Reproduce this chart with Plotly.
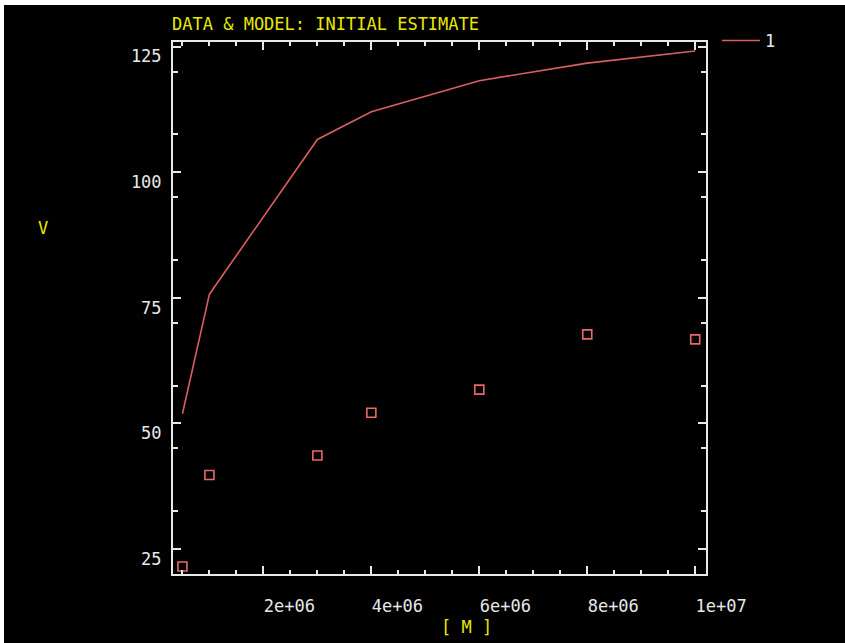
import plotly.graph_objects as go

# ---- data ----
mass = [0.5e6, 1e6, 3e6, 4e6, 6e6, 8e6, 10e6]
v_data = [21.5, 39.7, 43.6, 52.1, 56.7, 67.7, 66.7]
v_model = [51.9, 75.7, 106.5, 112.0, 118.2, 121.7, 124.1]
model_name = "1"
x_tickvals = [2e6, 4e6, 6e6, 8e6, 10e6]
x_ticktext = ["2e+06", "4e+06", "6e+06", "8e+06", "1e+07"]
y_tickvals = [25, 50, 75, 100, 125]
y_ticktext = ["25", "50", "75", "100", "125"]
title_text = "DATA & MODEL: INITIAL ESTIMATE"
x_label = "[ M ]"
y_label = "V"

W, H = 845, 643
L, T = 173, 42
R = W - 706
B = H - 574
PW, PH = W - L - R, H - T - B
FONT = "DejaVu Sans Mono"
FS = 17
YELLOW = "#e8e800"
WHITE = "#e8e8e8"
RED = "#d95f5f"


def px_to_paper(sx, sy):
    return (sx - L) / PW, 1 - (sy - T) / PH


fig = go.Figure()
fig.add_trace(go.Scatter(
    x=mass, y=v_model, mode="lines", name=model_name,
    line=dict(color=RED, width=1.6),
))
fig.add_trace(go.Scatter(
    x=mass, y=v_data, mode="markers", showlegend=False,
    marker=dict(symbol="square-open", size=9, color="#e86a6a",
                line=dict(width=1.6, color="#e86a6a")),
))

axis_common = dict(
    showgrid=False, zeroline=False,
    showline=True, linecolor=WHITE, linewidth=2, mirror="ticks",
    ticks="inside", tickcolor=WHITE, tickwidth=1.5, ticklen=8,
    tickfont=dict(family=FONT, size=FS, color=WHITE),
)

fig.update_xaxes(
    **axis_common,
    range=[0.325e6, 10.2e6],
    tickmode="array", tickvals=x_tickvals, ticktext=x_ticktext,
    ticklabelshift=26, ticklabelstandoff=16,
    minor=dict(ticks="inside", ticklen=4, tickcolor=WHITE, tickwidth=1.5,
               tick0=0, dtick=0.5e6),
)
fig.update_yaxes(
    **axis_common,
    range=[20, 125.9],
    tickmode="array", tickvals=y_tickvals, ticktext=y_ticktext,
    ticklabelshift=10, ticklabelstandoff=6,
    minor=dict(ticks="inside", ticklen=5, tickcolor=WHITE, tickwidth=1.5,
               tick0=20, dtick=12.5),
)

vx, vy = px_to_paper(43, 228)
fig.add_annotation(text=y_label, xref="paper", yref="paper", x=vx, y=vy,
                   showarrow=False, xanchor="center", yanchor="middle",
                   font=dict(family=FONT, size=FS, color=YELLOW))
mx, my = px_to_paper(466, 627)
fig.add_annotation(text=x_label, xref="paper", yref="paper", x=mx, y=my,
                   showarrow=False, xanchor="center", yanchor="middle",
                   font=dict(family=FONT, size=FS, color=YELLOW))

# thin white page border at top and left
x0p, y0p = px_to_paper(0, 0)
x4p, _ = px_to_paper(4, 0)
x845p, y643p = px_to_paper(W, H)
_, y5p = px_to_paper(0, 5)
fig.add_shape(type="rect", xref="paper", yref="paper", x0=x0p, x1=x4p,
              y0=y643p, y1=y0p, fillcolor="white", line_width=0, layer="above")
fig.add_shape(type="rect", xref="paper", yref="paper", x0=x0p, x1=x845p,
              y0=y5p, y1=y0p, fillcolor="white", line_width=0, layer="above")

lx, ly = px_to_paper(717, 41)
fig.update_layout(
    width=W, height=H,
    margin=dict(l=L, r=R, t=T, b=B, autoexpand=False),
    paper_bgcolor="black", plot_bgcolor="black",
    title=dict(text=title_text, x=172 / W, xanchor="left", xref="container",
               y=1 - 24 / H, yanchor="middle", yref="container",
               font=dict(family=FONT, size=FS, color=YELLOW)),
    legend=dict(x=lx, y=ly, xanchor="left", yanchor="middle",
                bgcolor="rgba(0,0,0,0)", itemwidth=38,
                font=dict(family=FONT, size=FS, color=WHITE)),
    showlegend=True,
)

fig.write_html(
    "out.html",
    config={"displayModeBar": False},
    post_script="document.body.style.margin='0';"
                "document.body.style.overflow='hidden';"
                "document.body.style.background='black';"
                "document.documentElement.style.background='black';",
)
